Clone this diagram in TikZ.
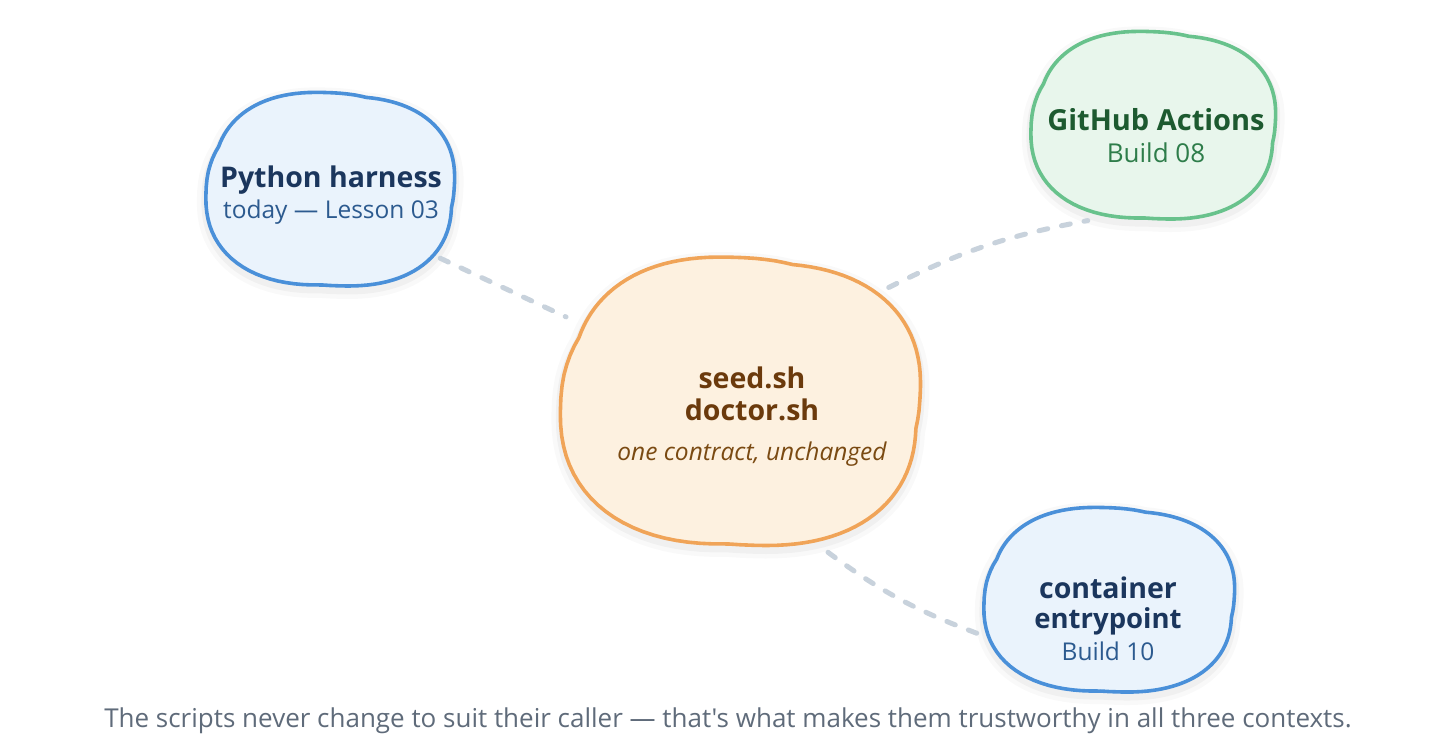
\documentclass[tikz,border=0pt]{standalone}
\usepackage{fontspec}
\setmainfont{Open Sans}[Ligatures=TeXOff]
\usetikzlibrary{shapes.geometric}
\definecolor{bluestroke}{HTML}{4A90D9}
\definecolor{bluefill}{HTML}{EAF3FC}
\definecolor{bluetitle}{HTML}{1B365D}
\definecolor{bluesub}{HTML}{2C5A8F}
\definecolor{greenstroke}{HTML}{68C28C}
\definecolor{greenfill}{HTML}{E8F6EC}
\definecolor{greentitle}{HTML}{1D5A30}
\definecolor{greensub}{HTML}{2E7D4A}
\definecolor{orangestroke}{HTML}{F0A458}
\definecolor{orangefill}{HTML}{FDF1E0}
\definecolor{orangetitle}{HTML}{6B3A0C}
\definecolor{orangesub}{HTML}{7A4A12}
\definecolor{connc}{HTML}{C8D2DC}
\definecolor{capc}{HTML}{5F6B7A}
% lobed, slightly squared blob with four shallow notches
\newcommand{\blobseg}[5]{% prefix, from, to, a, b
  #1 plot[domain=#2:#3,samples=30,variable=\u]
   ({#4*0.98*cos(\u)/(abs(cos(\u))+0.00001)*pow(abs(cos(\u))+0.00001,0.87)*(1+0.045*sin((\u-(#2))/((#3)-(#2))*180))},
    {#5*0.98*sin(\u)/(abs(sin(\u))+0.00001)*pow(abs(sin(\u))+0.00001,0.87)*(1+0.045*sin((\u-(#2))/((#3)-(#2))*180))})}
% #1 style, #2 cx, #3 cy, #4 a, #5 b
\newcommand{\blobshape}[5]{%
  \path[#1,shift={(#2,#3)}]
    \blobseg{}{-76}{8}{#4}{#5} \blobseg{--}{8}{93}{#4}{#5}
    \blobseg{--}{93}{204}{#4}{#5} \blobseg{--}{204}{284}{#4}{#5} -- cycle;}
\begin{document}
\begin{tikzpicture}[x=1pt,y=-1pt,
  hub/.style={ellipse,draw=none,inner sep=0pt},
  conn/.style={draw=connc,line width=5pt,line cap=round,dash pattern=on 9pt off 14pt},
  shadowA/.style={draw=black,draw opacity=0.025,line width=18pt},
  shadowB/.style={draw=black,draw opacity=0.035,line width=9pt},
  blueblob/.style={draw=bluestroke,fill=bluefill,line width=3.6pt,line join=round},
  greenblob/.style={draw=greenstroke,fill=greenfill,line width=3.6pt,line join=round},
  orangeblob/.style={draw=orangestroke,fill=orangefill,line width=3.6pt,line join=round},
  title/.style={anchor=base,inner sep=0pt,font=\bfseries\fontsize{28.5}{33}\selectfont},
  sub/.style={anchor=base,inner sep=0pt,font=\fontsize{24.5}{29}\selectfont},
]
\useasboundingbox (0,0) rectangle (1456,744);
\fill[white] (0,0) rectangle (1456,744);

% invisible hubs (blob outlines plus gap)
\node[hub,minimum width=276pt,minimum height=222pt] (py) at (331,190) {};
\node[hub,minimum width=272pt,minimum height=216pt] (gh) at (1154,126) {};
\node[hub,minimum width=410pt,minimum height=330pt] (core) at (741.5,402.5) {};
\node[hub,minimum width=278pt,minimum height=214pt] (ct) at (1110,600.5) {};

% shadows
\foreach \s in {shadowA,shadowB}{
  \blobshape{\s,yshift=-4pt}{331}{190}{124}{97}
  \blobshape{\s,yshift=-4pt}{1154}{126}{122}{94}
  \blobshape{\s,yshift=-4pt}{741.5}{402.5}{179.5}{144.5}
  \blobshape{\s,yshift=-4pt}{1110}{600.5}{125}{92.5}
}

% connectors
\draw[conn] (py.-32) -- (core.154);
\draw[conn] (core.38) to[bend left=8] (gh.235);
\draw[conn] (core.-60) to[bend right=8] (ct.194);

% blobs
\blobshape{blueblob}{331}{190}{124}{97}
\blobshape{greenblob}{1154}{126}{122}{94}
\blobshape{orangeblob}{741.5}{402.5}{179.5}{144.5}
\blobshape{blueblob}{1110}{600.5}{125}{92.5}

% texts
\node[title,text=bluetitle] (pyt) at (331,187) {Python harness};
\node[sub,text=bluesub] (pys) at (331,218) {today — Lesson 03};
\node[title,text=greentitle,font=\bfseries\fontsize{29}{34}\selectfont] (ght) at (1156,130) {GitHub Actions};
\node[sub,text=greensub,font=\fontsize{26}{30}\selectfont] (ghs) at (1156,162) {Build 08};
\node[title,text=orangetitle] (c1) at (752,388) {seed.sh};
\node[title,text=orangetitle] (c2) at (752,420) {doctor.sh};
\node[sub,text=orangesub,font=\itshape\fontsize{24.5}{29}\selectfont] (c3) at (752,460) {one contract, unchanged};
\node[title,text=bluetitle] (ct1) at (1108,598) {container};
\node[title,text=bluetitle,font=\bfseries\fontsize{27.5}{32}\selectfont] (ct2) at (1108,628) {entrypoint};
\node[sub,text=bluesub] (ct3) at (1108,660) {Build 10};

\node[anchor=base,inner sep=0pt,text=capc,font=\fontsize{26}{30}\selectfont] (cap) at (728,727)
  {The scripts never change to suit their caller — that's what makes them trustworthy in all three contexts.};
\end{tikzpicture}
\end{document}
